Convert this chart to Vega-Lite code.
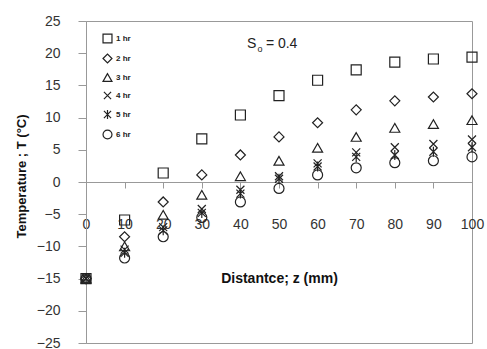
{
  "$schema": "https://vega.github.io/schema/vega-lite/v6.json",
  "width": 386,
  "height": 322,
  "autosize": {"type": "none"},
  "padding": {"left": 86, "top": 21, "right": 15, "bottom": 6},
  "background": "white",
  "config": {
    "view": {"stroke": "#999999", "strokeWidth": 1},
    "font": "Liberation Sans",
    "axis": {"labelOverlap": false, "labelSeparation": 0, "labelFlush": false}
  },
  "resolve": {"axis": {"x": "independent", "y": "independent"}},
  "layer": [
    {
      "data": {
        "values": [
          {"series": "1 hr", "z": 0, "T": -15}, {"series": "1 hr", "z": 10, "T": -5.9}, {"series": "1 hr", "z": 20, "T": 1.4}, {"series": "1 hr", "z": 30, "T": 6.7}, {"series": "1 hr", "z": 40, "T": 10.4}, {"series": "1 hr", "z": 50, "T": 13.4}, {"series": "1 hr", "z": 60, "T": 15.8}, {"series": "1 hr", "z": 70, "T": 17.4}, {"series": "1 hr", "z": 80, "T": 18.6}, {"series": "1 hr", "z": 90, "T": 19.1}, {"series": "1 hr", "z": 100, "T": 19.4},
          {"series": "2 hr", "z": 0, "T": -15}, {"series": "2 hr", "z": 10, "T": -8.5}, {"series": "2 hr", "z": 20, "T": -3.1}, {"series": "2 hr", "z": 30, "T": 1.1}, {"series": "2 hr", "z": 40, "T": 4.2}, {"series": "2 hr", "z": 50, "T": 7.0}, {"series": "2 hr", "z": 60, "T": 9.2}, {"series": "2 hr", "z": 70, "T": 11.2}, {"series": "2 hr", "z": 80, "T": 12.6}, {"series": "2 hr", "z": 90, "T": 13.2}, {"series": "2 hr", "z": 100, "T": 13.7},
          {"series": "3 hr", "z": 0, "T": -15}, {"series": "3 hr", "z": 10, "T": -10.0}, {"series": "3 hr", "z": 20, "T": -5.1}, {"series": "3 hr", "z": 30, "T": -2.0}, {"series": "3 hr", "z": 40, "T": 0.9}, {"series": "3 hr", "z": 50, "T": 3.3}, {"series": "3 hr", "z": 60, "T": 5.3}, {"series": "3 hr", "z": 70, "T": 7.0}, {"series": "3 hr", "z": 80, "T": 8.4}, {"series": "3 hr", "z": 90, "T": 9.0}, {"series": "3 hr", "z": 100, "T": 9.6},
          {"series": "4 hr", "z": 0, "T": -15}, {"series": "4 hr", "z": 10, "T": -10.5}, {"series": "4 hr", "z": 20, "T": -7.0}, {"series": "4 hr", "z": 30, "T": -4.2}, {"series": "4 hr", "z": 40, "T": -1.2}, {"series": "4 hr", "z": 50, "T": 0.9}, {"series": "4 hr", "z": 60, "T": 2.9}, {"series": "4 hr", "z": 70, "T": 4.6}, {"series": "4 hr", "z": 80, "T": 5.4}, {"series": "4 hr", "z": 90, "T": 5.9}, {"series": "4 hr", "z": 100, "T": 6.6},
          {"series": "5 hr", "z": 0, "T": -15}, {"series": "5 hr", "z": 10, "T": -11.0}, {"series": "5 hr", "z": 20, "T": -7.5}, {"series": "5 hr", "z": 30, "T": -4.8}, {"series": "5 hr", "z": 40, "T": -1.8}, {"series": "5 hr", "z": 50, "T": 0.5}, {"series": "5 hr", "z": 60, "T": 2.4}, {"series": "5 hr", "z": 70, "T": 3.9}, {"series": "5 hr", "z": 80, "T": 4.2}, {"series": "5 hr", "z": 90, "T": 4.7}, {"series": "5 hr", "z": 100, "T": 5.4},
          {"series": "6 hr", "z": 0, "T": -15}, {"series": "6 hr", "z": 10, "T": -11.8}, {"series": "6 hr", "z": 20, "T": -8.5}, {"series": "6 hr", "z": 30, "T": -5.5}, {"series": "6 hr", "z": 40, "T": -3.1}, {"series": "6 hr", "z": 50, "T": -1.0}, {"series": "6 hr", "z": 60, "T": 1.1}, {"series": "6 hr", "z": 70, "T": 2.2}, {"series": "6 hr", "z": 80, "T": 3.0}, {"series": "6 hr", "z": 90, "T": 3.3}, {"series": "6 hr", "z": 100, "T": 3.9}
        ]
      },
      "mark": {"type": "point", "filled": false, "stroke": "#222222", "strokeWidth": 1.2, "opacity": 1, "size": 100},
      "encoding": {
        "x": {
          "field": "z", "type": "quantitative",
          "scale": {"domain": [0, 100], "nice": false},
          "axis": {
            "orient": "bottom", "offset": -161, "values": [0,10,20,30,40,50,60,70,80,90,100], "tickCount": 11,
            "grid": false, "domainColor": "#999999", "tickColor": "#999999", "tickSize": 6,
            "labelFontSize": 14, "labelColor": "#333333", "labelPadding": 29, "labelFlush": false, "labelOverlap": false, "labelSeparation": 0,
            "title": "Distantce; z (mm)", "titleFontSize": 14, "titleFontWeight": "bold", "titleColor": "#111111", "titlePadding": 40
          }
        },
        "y": {
          "field": "T", "type": "quantitative",
          "scale": {"domain": [-25, 25], "nice": false},
          "axis": {
            "values": [-25,-20,-15,-10,-5,0,5,10,15,20,25], "tickCount": 11,
            "grid": false, "domainColor": "#999999", "tickColor": "#999999", "tickSize": 8,
            "labelFontSize": 14, "labelColor": "#333333", "labelPadding": 18, "labelFlush": false, "labelOverlap": false, "labelSeparation": 0,
            "title": "Temperature ; T (°C)", "titleFontSize": 13, "titleFontWeight": "bold", "titleColor": "#111111", "titlePadding": 8, "titleY": 155
          }
        },
        "shape": {
          "field": "series", "type": "nominal",
          "scale": {
            "domain": ["1 hr", "2 hr", "3 hr", "4 hr", "5 hr", "6 hr"],
            "range": ["square", "diamond", "triangle-up", "M-0.8,-0.8L0.8,0.8M-0.8,0.8L0.8,-0.8", "M-0.8,-0.8L0.8,0.8M-0.8,0.8L0.8,-0.8M0,-1L0,1", "circle"]
          },
          "legend": {
            "orient": "none", "legendX": 16, "legendY": 12, "title": null, "padding": 0,
            "symbolSize": 80, "symbolStrokeColor": "#222222", "symbolFillColor": "transparent", "symbolStrokeWidth": 1.2,
            "labelFontSize": 8, "labelFontWeight": "bold", "labelColor": "#222222", "labelOffset": 3, "rowPadding": 5
          }
        }
      }
    },
    {
      "data": {"values": [{"label": "S"}]},
      "mark": {"type": "text", "fontSize": 14, "color": "#222222", "align": "left", "baseline": "middle"},
      "encoding": {
        "x": {"datum": 41.7, "axis": null},
        "y": {"datum": 21.4, "axis": null},
        "text": {"field": "label"}
      }
    },
    {
      "data": {"values": [{"label": "o"}]},
      "mark": {"type": "text", "fontSize": 9, "color": "#222222", "align": "left", "baseline": "middle"},
      "encoding": {
        "x": {"datum": 44.4, "axis": null},
        "y": {"datum": 20.6, "axis": null},
        "text": {"field": "label"}
      }
    },
    {
      "data": {"values": [{"label": "= 0.4"}]},
      "mark": {"type": "text", "fontSize": 14, "color": "#222222", "align": "left", "baseline": "middle"},
      "encoding": {
        "x": {"datum": 46.6, "axis": null},
        "y": {"datum": 21.4, "axis": null},
        "text": {"field": "label"}
      }
    }
  ]
}
